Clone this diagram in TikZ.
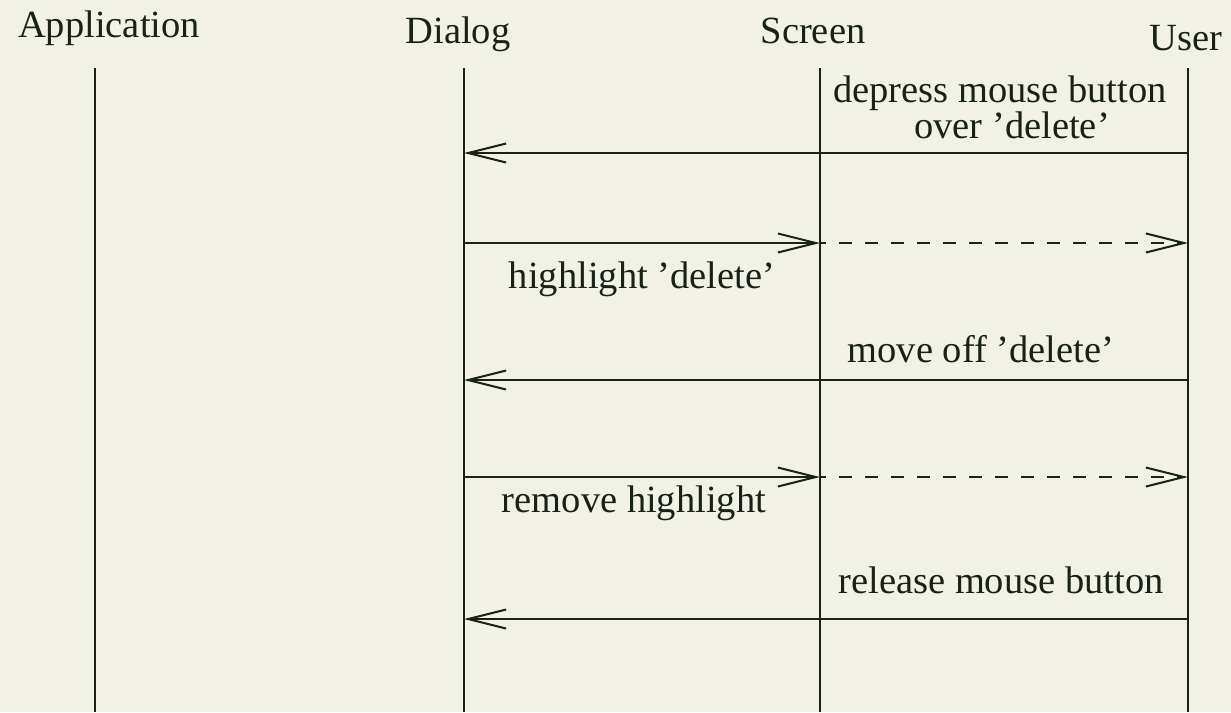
\documentclass[tikz,border=0pt]{standalone}
\usepackage{fontspec}
\setmainfont{Liberation Serif}
\usetikzlibrary{arrows.meta}
\definecolor{paper}{RGB}{242,241,230}
\definecolor{ink}{RGB}{24,34,24}
\begin{document}
\begin{tikzpicture}[x=1pt, y=-1pt,
  every node/.style={inner sep=0pt, text=ink, font=\fontsize{38.5}{36}\selectfont},
  lbl/.style={anchor=base},
  lifeline/.style={draw=ink, line width=2pt},
  msg/.style={draw=ink, line width=2pt,
    -{Straight Barb[length=38pt, width=19pt, line width=2pt]}},
  echo/.style={msg, dash pattern=on 13pt off 13pt, dash phase=7pt}]
  % canvas
  \fill[paper] (0,0) rectangle (1231,712);
  \useasboundingbox (0,0) rectangle (1231,712);

  % participants
  \node[lbl] (app)  at (109,37)  {Application};
  \node[lbl] (dlg)  at (458,43)  {Dialog};
  \node[lbl] (scr)  at (813,43)  {Screen};
  \node[lbl] (usr)  at (1186,50) {User};

  % lifelines
  \foreach \n/\x in {A/95, D/464, S/820, U/1188} {
    \coordinate (\n top) at (\x,68);
    \coordinate (\n bot) at (\x,712);
    \draw[lifeline] (\n top) -- (\n bot);
    \foreach \k/\y in {1/153, 2/243, 3/380, 4/477, 5/619}
      \coordinate (\n\k) at (\x,\y);
  }

  % messages
  \draw[msg]  (U1) -- (D1);
  \draw[msg]  (D2) -- (S2);
  \draw[echo] (S2) -- (U2);
  \draw[msg]  (U3) -- (D3);
  \draw[msg]  (D4) -- (S4);
  \draw[echo] (S4) -- (U4);
  \draw[msg]  (U5) -- (D5);

  % message labels (the two-line label sits on the baseline of its last line)
  \node[lbl, align=center] (m1) at (1000,138)
    {depress mouse button\\\hspace*{24pt}over ’delete’};
  \node[lbl] (m2) at (642,288) {highlight ’delete’};
  \node[lbl] (m3) at (981,362) {move off ’delete’};
  \node[lbl] (m4) at (634,512) {remove highlight};
  \node[lbl] (m5) at (1001,593) {release mouse button};
\end{tikzpicture}
\end{document}
